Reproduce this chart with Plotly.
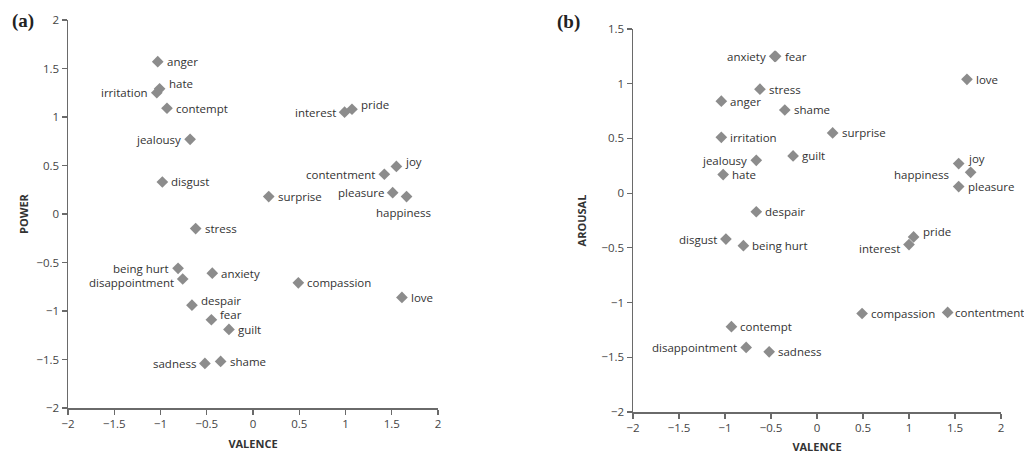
import plotly.graph_objects as go

# ---------------- data ----------------
# Panel (a): valence vs power
a_labels = ["anger", "hate", "irritation", "contempt", "jealousy", "disgust", "stress",
            "being hurt", "disappointment", "anxiety", "compassion", "despair", "fear",
            "guilt", "sadness", "shame", "interest", "pride", "contentment", "joy",
            "surprise", "pleasure", "happiness", "love"]
a_valence = [-1.03, -1.01, -1.04, -0.93, -0.68, -0.98, -0.62,
             -0.81, -0.76, -0.44, 0.49, -0.66, -0.45,
             -0.26, -0.52, -0.35, 0.99, 1.07, 1.42, 1.55,
             0.17, 1.51, 1.66, 1.61]
a_power = [1.57, 1.29, 1.25, 1.09, 0.77, 0.33, -0.15,
           -0.56, -0.67, -0.61, -0.71, -0.94, -1.09,
           -1.19, -1.54, -1.52, 1.05, 1.08, 0.41, 0.49,
           0.18, 0.22, 0.18, -0.86]
a_place = ["r", "tr", "l", "r", "l", "r", "r",
           "l", "bl", "r", "r", "tr", "tr",
           "r", "l", "r", "l", "tr", "l", "tr",
           "r", "l", "b", "r"]

# Panel (b): valence vs arousal
b_labels = ["anxiety", "fear", "stress", "anger", "shame", "irritation", "jealousy",
            "guilt", "hate", "despair", "surprise", "love", "joy", "happiness",
            "pleasure", "interest", "pride", "disgust", "being hurt", "compassion",
            "contentment", "contempt", "disappointment", "sadness"]
b_valence = [-0.46, -0.45, -0.62, -1.04, -0.35, -1.04, -0.66,
             -0.26, -1.02, -0.66, 0.17, 1.63, 1.54, 1.67,
             1.54, 1.00, 1.05, -0.99, -0.80, 0.49,
             1.42, -0.93, -0.77, -0.52]
b_arousal = [1.25, 1.25, 0.95, 0.84, 0.76, 0.51, 0.30,
             0.34, 0.17, -0.17, 0.55, 1.04, 0.27, 0.19,
             0.06, -0.47, -0.40, -0.42, -0.48, -1.10,
             -1.09, -1.22, -1.41, -1.45]
b_place = ["l", "r", "r", "r", "r", "r", "l",
           "r", "r", "r", "r", "r", "tr", "hl",
           "r", "bl", "tr", "l", "r", "r",
           "rn", "r", "l", "r"]

tick_vals = [-2, -1.5, -1, -0.5, 0, 0.5, 1, 1.5, 2]
tick_text = ["\u22122", "\u22121.5", "\u22121", "\u22120.5", "0", "0.5", "1", "1.5", "2"]
b_ytick_vals = [-2, -1.5, -1, -0.5, 0, 0.5, 1, 1.5]
b_ytick_text = ["\u22122", "\u22121.5", "\u22121", "\u22120.5", "0", "0.5", "1", "1.5"]

# ---------------- figure ----------------
FONT = "Open Sans"
MARK = "#8c8c8c"
TXT = "#333333"
AX = "#6a6a6a"

# body margin is removed by a post script, so figure pixels == page pixels
W, H, OFF = 1024, 454, 0


def px(xp):
    return (xp - OFF) / W


def py(yp):
    return 1 - (yp - OFF) / H


fig = go.Figure()
fig.add_trace(go.Scatter(x=a_valence, y=a_power, mode="markers", xaxis="x", yaxis="y",
                         marker=dict(symbol="diamond", size=9, color=MARK),
                         cliponaxis=False, hoverinfo="text", text=a_labels))
fig.add_trace(go.Scatter(x=b_valence, y=b_arousal, mode="markers", xaxis="x2", yaxis="y2",
                         marker=dict(symbol="diamond", size=9, color=MARK),
                         cliponaxis=False, hoverinfo="text", text=b_labels))

placements = {
    "r": dict(xanchor="left", yanchor="middle", xshift=7, yshift=0, size=11.5),
    "rn": dict(xanchor="left", yanchor="middle", xshift=5, yshift=0, size=11.5),
    "l": dict(xanchor="right", yanchor="middle", xshift=-7, yshift=0, size=11.5),
    "tr": dict(xanchor="left", yanchor="middle", xshift=7, yshift=5, size=11.5),
    "b": dict(xanchor="center", yanchor="middle", xshift=-3, yshift=-16, size=11.5),
    "bl": dict(xanchor="right", yanchor="middle", xshift=-7, yshift=-4, size=11.5),
    "hl": dict(xanchor="right", yanchor="middle", xshift=-20, yshift=-2, size=11.5),
}


def label(lab, xv, yv, p, xr, yr):
    s = dict(placements[p])
    fs = s.pop("size")
    return dict(x=xv, y=yv, xref=xr, yref=yr, text=lab, showarrow=False,
                font=dict(family=FONT, size=fs, color=TXT), **s)


annotations = []
for lab, xv, yv, p in zip(a_labels, a_valence, a_power, a_place):
    annotations.append(label(lab, xv, yv, p, "x", "y"))
for lab, xv, yv, p in zip(b_labels, b_valence, b_arousal, b_place):
    annotations.append(label(lab, xv, yv, p, "x2", "y2"))

# panel letters
annotations.append(dict(x=px(10), y=py(21), xref="paper", yref="paper", text="<b>(a)</b>",
                        showarrow=False, xanchor="left", yanchor="middle",
                        font=dict(family="Liberation Serif", size=19, color="#222")))
annotations.append(dict(x=px(555), y=py(22), xref="paper", yref="paper", text="<b>(b)</b>",
                        showarrow=False, xanchor="left", yanchor="middle",
                        font=dict(family="Liberation Serif", size=19, color="#222")))

axis_common = dict(showgrid=False, zeroline=False, showline=True, linecolor=AX, linewidth=1.5,
                   ticks="outside", ticklen=5, tickcolor=AX, tickwidth=1.2,
                   tickfont=dict(family=FONT, size=11.5, color="#444"), automargin=False,
                   fixedrange=True)
title_font = dict(family=FONT, size=11, color=TXT)

fig.update_layout(
    width=W, height=H,
    margin=dict(l=0, r=0, t=0, b=0),
    paper_bgcolor="white", plot_bgcolor="white",
    showlegend=False,
    hovermode=False,
    annotations=annotations,
    xaxis=dict(domain=[px(68), px(438)], range=[-2, 2], tickvals=tick_vals, ticktext=tick_text,
               anchor="y", title=dict(text="<b>VALENCE</b>", font=title_font, standoff=10), **axis_common),
    yaxis=dict(domain=[py(408), py(20)], range=[-2, 2], tickvals=tick_vals, ticktext=tick_text,
               anchor="x", title=dict(text="<b>POWER</b>", font=title_font, standoff=5), **axis_common),
    xaxis2=dict(domain=[px(633), px(1001)], range=[-2, 2], tickvals=tick_vals, ticktext=tick_text,
                anchor="y2", title=dict(text="<b>VALENCE</b>", font=title_font, standoff=10), **axis_common),
    yaxis2=dict(domain=[py(412), py(29)], range=[-2, 1.5], tickvals=b_ytick_vals,
                ticktext=b_ytick_text, anchor="x2",
                title=dict(text="<b>AROUSAL</b>", font=title_font, standoff=12), **axis_common),
)

fig.write_html("out.html",
               config={"displayModeBar": False, "staticPlot": True},
               post_script="document.body.style.margin='0';document.body.style.overflow='hidden';")
